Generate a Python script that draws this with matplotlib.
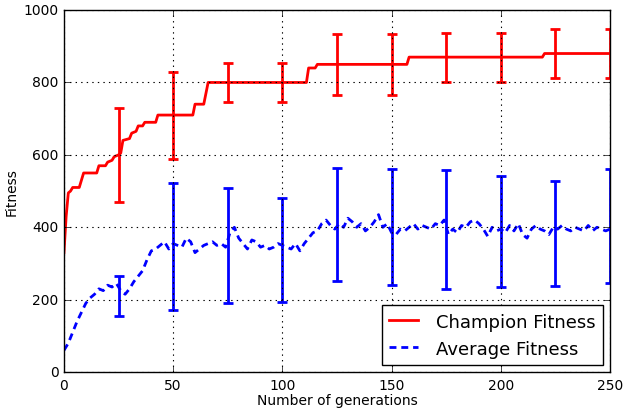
import matplotlib
matplotlib.use("Agg")
import matplotlib.pyplot as plt

plt.style.use("classic")

# Champion fitness (generation, value) points
champ_gens = [0, 1, 2, 3, 4, 7, 8, 9, 15, 16, 19, 20, 22, 23, 25, 26, 27, 30, 31, 33,
              34, 36, 37, 42, 43, 59, 60, 64, 66, 111, 112, 115, 116, 157, 158, 219, 220, 250]
champ_vals = [330, 430, 495, 500, 510, 510, 530, 550, 550, 570, 570, 580, 585, 595, 600, 605,
              640, 645, 660, 665, 680, 680, 690, 690, 710, 710, 740, 740, 800, 800, 840, 840,
              850, 850, 870, 870, 880, 880]

# Average fitness, every 2 generations
avg_gens = list(range(0, 251, 2))
avg_vals = [60, 80, 110, 140, 165, 190, 205, 215, 230, 225, 240, 235, 245, 225, 215, 230,
            250, 265, 280, 310, 335, 340, 350, 360, 340, 355, 350, 345, 370, 360, 330, 340,
            350, 355, 360, 350, 355, 345, 385, 400, 370, 355, 340, 365, 360, 345, 350, 340,
            345, 355, 350, 345, 340, 355, 335, 355, 370, 385, 390, 410, 420, 405, 395, 410,
            400, 425, 415, 400, 410, 390, 400, 415, 435, 400, 410, 385, 380, 395, 390, 400,
            410, 395, 405, 400, 395, 410, 405, 420, 380, 395, 385, 405, 400, 415, 420, 410,
            395, 375, 400, 390, 395, 385, 405, 390, 410, 380, 370, 395, 405, 395, 390, 380,
            400, 395, 405, 395, 390, 400, 395, 390, 405, 390, 400, 395, 390, 395]

# Error bars
err_gens = [25, 50, 75, 100, 125, 150, 175, 200, 225, 250]
champ_mean = [600, 710, 800, 800, 850, 850, 870, 870, 880, 880]
champ_err = [130, 120, 55, 55, 85, 85, 68, 68, 68, 68]
avg_mean = [210, 346, 350, 338, 408, 400, 394, 388, 383, 403]
avg_err = [56, 175, 158, 143, 155, 160, 165, 154, 145, 157]

fig = plt.figure(figsize=(6.27, 4.10), dpi=100, facecolor="white")
ax = fig.add_axes([0.102, 0.090, 0.871, 0.883])
ax.set_facecolor("white")

ax.plot(champ_gens, champ_vals, color="red", lw=2, ls="-", label="Champion Fitness")
ax.plot(avg_gens, avg_vals, color="blue", lw=2, ls=(0, (5, 3.5)), label="Average Fitness")
ax.errorbar(err_gens, champ_mean, yerr=champ_err, fmt="none", ecolor="red",
            elinewidth=2, capsize=3.5, capthick=2)
ax.errorbar(err_gens, avg_mean, yerr=avg_err, fmt="none", ecolor="blue",
            elinewidth=2, capsize=3.5, capthick=2)

ax.set_xlim(0, 250)
ax.set_ylim(0, 1000)
ax.set_xticks([0, 50, 100, 150, 200, 250])
ax.set_yticks([0, 200, 400, 600, 800, 1000])
ax.tick_params(labelsize=10)
ax.grid(True, color="black", ls=":", lw=0.8)
ax.set_xlabel("Number of generations", fontsize=10, labelpad=1)
ax.set_ylabel("Fitness", fontsize=10, labelpad=3)

leg = ax.legend(loc="lower right", fontsize=13, fancybox=False, numpoints=1,
                handlelength=1.6, handletextpad=1.0, borderaxespad=0.4)
leg.get_frame().set_linewidth(1)

fig.savefig("out.png", dpi=100, facecolor="white")
